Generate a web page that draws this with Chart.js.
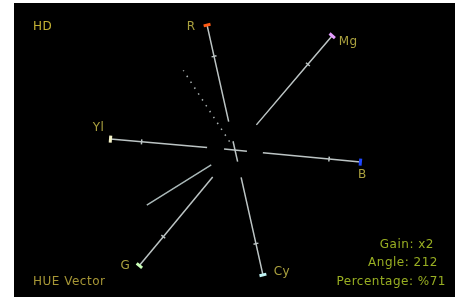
<!DOCTYPE html>
<html>
<head>
<meta charset="utf-8">
<script src="https://cdn.jsdelivr.net/npm/chart.js@4/dist/chart.umd.min.js"></script>
<style>
  html, body { margin: 0; padding: 0; background: #fff; }
  #wrap { width: 461px; height: 299px; }
</style>
</head>
<body>
<div id="wrap"><canvas id="scope" width="461" height="299"></canvas></div>
<script>
// vectorscope targets (angle in degrees, length in scope units)
const vectorNames = ['R', 'Mg', 'B', 'Cy', 'G', 'Yl'];
const vectorAngles = [102.6, 49.6, -5.5, 282.6, 230.4, 175.0];
const vectorLengths = [128, 150, 126, 128, 150, 125];
const vectorStarts = [29, 33, 28, 28, 35, 28];
const tickLevel = 0.75;

// skin tone line
const skinAngle = 123;
const skinRange = [10, 95];

// measured hue vector
const hueGain = 'x2';
const hueAngle = 212;
const huePercent = 71;
const hueRange = [28, 104];

// centre cross arms
const crossAngles = [-5.5, 282.6];
const crossRanges = [[-11, 12], [-9, 12]];

// styles
const markerColors = ['#ff5a14', '#e49cff', '#1e46ff', '#bff2f2', '#caffb8', '#f4f2c8'];
const labelOffsets = [[-16, 2], [16, 6], [2, 13], [19, -3], [-14, 0], [-12, -11]];
const traceColor = '#bcc4c4';

const polar = (r, deg) => ({
  x: r * Math.cos(deg * Math.PI / 180),
  y: r * Math.sin(deg * Math.PI / 180)
});

const datasets = [];

vectorNames.forEach((name, i) => {
  const a = vectorAngles[i];
  const rot = 90 - a;
  datasets.push({
    label: name,
    data: [polar(vectorStarts[i], a), polar(vectorLengths[i] * tickLevel, a), polar(vectorLengths[i], a)],
    showLine: true,
    borderColor: traceColor,
    borderWidth: 1.5,
    pointStyle: 'line',
    pointRadius: [0, 2.5, 3.5],
    pointBorderWidth: [0, 1.5, 3],
    pointBorderColor: [traceColor, traceColor, markerColors[i]],
    pointRotation: [0, rot, rot]
  });
});

datasets.push({
  label: 'skin',
  data: [polar(skinRange[0], skinAngle), polar(skinRange[1], skinAngle)],
  showLine: true,
  borderColor: '#a8b0b0',
  borderWidth: 1.5,
  borderDash: [1.5, 5.5],
  pointRadius: 0
});

datasets.push({
  label: 'hue',
  data: [polar(hueRange[0], hueAngle), polar(hueRange[1], hueAngle)],
  showLine: true,
  borderColor: '#aab8b8',
  borderWidth: 1.5,
  pointRadius: 0
});

crossAngles.forEach((a, i) => {
  datasets.push({
    label: 'cross' + i,
    data: [polar(crossRanges[i][0], a), polar(crossRanges[i][1], a)],
    showLine: true,
    borderColor: traceColor,
    borderWidth: 1.5,
    pointRadius: 0
  });
});

const scopeBackground = {
  id: 'scopeBackground',
  beforeDraw(chart) {
    const { ctx, chartArea: a } = chart;
    ctx.save();
    ctx.fillStyle = '#000';
    ctx.fillRect(a.left, a.top, a.right - a.left, a.bottom - a.top);
    ctx.restore();
  }
};

const scopeText = {
  id: 'scopeText',
  afterDatasetsDraw(chart) {
    const { ctx, scales: { x, y }, chartArea: a } = chart;
    ctx.save();
    ctx.font = '12px "DejaVu Sans", sans-serif';
    ctx.letterSpacing = '0.5px';
    ctx.textBaseline = 'middle';
    ctx.textAlign = 'center';
    ctx.fillStyle = '#aaa03e';
    vectorNames.forEach((name, i) => {
      const p = polar(vectorLengths[i], vectorAngles[i]);
      ctx.fillText(name, x.getPixelForValue(p.x) + labelOffsets[i][0], y.getPixelForValue(p.y) + labelOffsets[i][1]);
    });
    ctx.textAlign = 'left';
    ctx.fillStyle = '#c4b234';
    ctx.fillText('HD', a.left + 19, a.top + 24);
    ctx.fillStyle = '#a69636';
    ctx.fillText('HUE Vector', a.left + 19, a.bottom - 15);
    ctx.textAlign = 'right';
    ctx.fillStyle = '#98ae22';
    ctx.fillText('Gain: ' + hueGain, a.right - 21, a.bottom - 52);
    ctx.fillText('Angle: ' + hueAngle, a.right - 17, a.bottom - 34);
    ctx.fillText('Percentage: %' + huePercent, a.right - 9, a.bottom - 15);
    ctx.restore();
  }
};

new Chart(document.getElementById('scope'), {
  type: 'scatter',
  data: { datasets },
  options: {
    responsive: false,
    animation: false,
    layout: { autoPadding: false, padding: { left: 14, right: 6, top: 3, bottom: 2 } },
    plugins: { legend: { display: false }, tooltip: { enabled: false } },
    scales: {
      x: { type: 'linear', min: -221, max: 220, display: false },
      y: { type: 'linear', min: -147, max: 147, display: false }
    }
  },
  plugins: [scopeBackground, scopeText]
});
</script>
</body>
</html>
